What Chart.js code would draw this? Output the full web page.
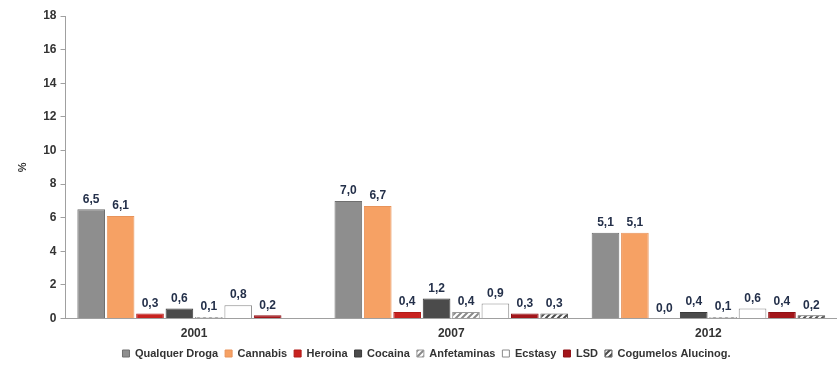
<!DOCTYPE html>
<html>
<head>
<meta charset="utf-8">
<script src="https://cdn.jsdelivr.net/npm/chart.js@4/dist/chart.umd.min.js"></script>
<style>
  html, body { margin: 0; padding: 0; background: #fff; overflow: hidden; }
  #wrap { width: 837px; height: 369px; }
</style>
</head>
<body>
<div id="wrap"><canvas id="myChart" width="837" height="369"></canvas></div>
<script>
const years = ["2001", "2007", "2012"];
const seriesNames = [
  "Qualquer Droga",
  "Cannabis",
  "Heroina",
  "Cocaina",
  "Anfetaminas",
  "Ecstasy",
  "LSD",
  "Cogumelos Alucinog.",
];

const qualquer = [6.5, 7.0, 5.1];
const cannabis = [6.1, 6.7, 5.1];
const heroina = [0.3, 0.4, 0.0];
const cocaina = [0.6, 1.2, 0.4];
const anfetaminas = [0.1, 0.4, 0.1];
const ecstasy = [0.8, 0.9, 0.6];
const lsd = [0.2, 0.3, 0.4];
const cogumelos = [null, 0.3, 0.2];

const yTicks = [0, 2, 4, 6, 8, 10, 12, 14, 16, 18];

function stripes(bg, fg) {
  const c = document.createElement("canvas");
  c.width = 6;
  c.height = 6;
  const g = c.getContext("2d");
  g.fillStyle = bg;
  g.fillRect(0, 0, 6, 6);
  g.strokeStyle = fg;
  g.lineWidth = 2;
  g.beginPath();
  g.moveTo(-1, 7); g.lineTo(7, -1);
  g.moveTo(-4, 4); g.lineTo(4, -4);
  g.moveTo(2, 10); g.lineTo(10, 2);
  g.stroke();
  return g.createPattern(c, "repeat");
}

const ctx = document.getElementById("myChart").getContext("2d");

const fills = [
  "#8e8e8e",
  "#f6a164",
  "#c8221f",
  "#4b4b4b",
  stripes("#ffffff", "#8a8a8a"),
  "#ffffff",
  "#a3151a",
  stripes("#ffffff", "#4a4a4a"),
];
const borders = [
  "#6f6f6f",
  "#e8935a",
  "#b01b18",
  "#3a3a3a",
  "#9a9a9a",
  "#8a8a8a",
  "#8e1015",
  "#555555",
];
const values = [qualquer, cannabis, heroina, cocaina, anfetaminas, ecstasy, lsd, cogumelos];

const datasets = seriesNames.map(function (name, i) {
  return {
    label: name,
    data: values[i],
    backgroundColor: fills[i],
    borderColor: borders[i],
    borderWidth: 1,
    barPercentage: 0.94,
    categoryPercentage: 0.915,
  };
});

// value labels above each bar, with comma decimals
const barLabels = {
  id: "barLabels",
  afterDatasetsDraw(chart) {
    const c = chart.ctx;
    c.save();
    c.font = "bold 12px 'Liberation Sans', Arial, sans-serif";
    c.fillStyle = "#24304a";
    c.textAlign = "center";
    c.textBaseline = "bottom";
    chart.data.datasets.forEach(function (ds, di) {
      chart.getDatasetMeta(di).data.forEach(function (bar, i) {
        const v = ds.data[i];
        if (v === null || v === undefined) return;
        c.fillText(v.toFixed(1).replace(".", ","), bar.x, bar.y - 4);
      });
    });
    c.restore();
  },
};

const myChart = new Chart(ctx, {
  type: "bar",
  data: { labels: years, datasets: datasets },
  plugins: [barLabels],
  options: {
    responsive: false,
    animation: false,
    layout: { padding: { top: 16, right: 0, left: 16, bottom: 0 } },
    plugins: {
      tooltip: { enabled: false },
      legend: {
        position: "bottom",
        labels: {
          boxWidth: 7,
          boxHeight: 7,
          padding: 7,
          color: "#333",
          font: { family: "'Liberation Sans', Arial, sans-serif", size: 11, weight: "bold" },
        },
      },
    },
    scales: {
      x: {
        grid: { display: false },
        border: { color: "#a0a0a0", width: 1 },
        ticks: {
          color: "#333",
          padding: 0,
          font: { family: "'Liberation Sans', Arial, sans-serif", size: 12, weight: "bold" },
        },
      },
      y: {
        min: 0,
        max: 18,
        afterBuildTicks: function (axis) {
          axis.ticks = yTicks.map(function (v) { return { value: v }; });
        },
        grid: { drawOnChartArea: false, drawTicks: true, tickLength: 5, color: "#a0a0a0" },
        border: { color: "#a0a0a0", width: 1 },
        title: {
          display: true,
          text: "%",
          color: "#333",
          padding: { top: 0, bottom: 10 },
          font: { family: "'Liberation Sans', Arial, sans-serif", size: 11, weight: "bold" },
        },
        ticks: {
          color: "#333",
          padding: 4,
          font: { family: "'Liberation Sans', Arial, sans-serif", size: 12, weight: "bold" },
        },
      },
    },
  },
});
</script>
</body>
</html>
